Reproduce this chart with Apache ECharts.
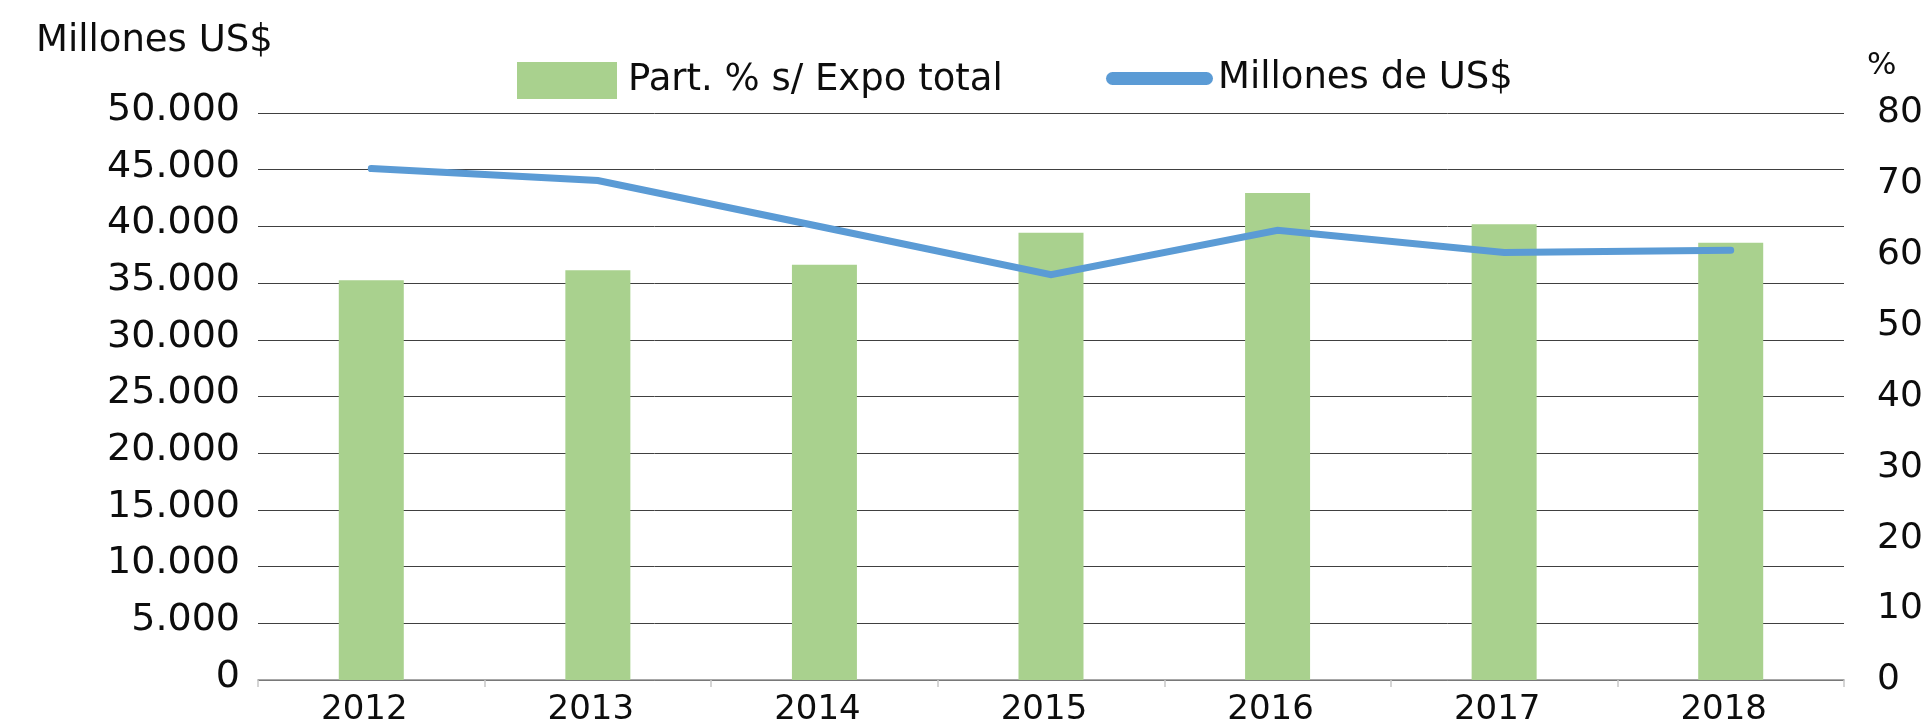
<!DOCTYPE html>
<html>
<head>
<meta charset="utf-8">
<style>
  html, body { margin: 0; padding: 0; background: #ffffff; }
  #chart { width: 1927px; height: 727px; }
</style>
<script src="https://cdn.jsdelivr.net/npm/echarts@6/dist/echarts.min.js"></script>
</head>
<body>
<div id="chart"></div>
<script>
// Years on the category axis
const years = ['2012', '2013', '2014', '2015', '2016', '2017', '2018'];
// Share of total exports (%), right axis
const partPct = [56.4, 57.8, 58.6, 63.1, 68.7, 64.3, 61.7];
// Exports in millions of US$, left axis
const millonesUSD = [45100, 44050, 39900, 35750, 39650, 37700, 37900];
// Axis ranges
const leftTicks = [0, 5000, 10000, 15000, 20000, 25000, 30000, 35000, 40000, 45000, 50000];
const rightTicks = [0, 10, 20, 30, 40, 50, 60, 70, 80];

const FONT = '"DejaVu Sans"';
const TXT = '#0d0d0d';

function thousands(v) {
  return String(v).replace(/\B(?=(\d{3})+(?!\d))/g, '.');
}

const chart = echarts.init(document.getElementById('chart'), null, { renderer: 'canvas' });

chart.setOption({
  animation: false,
  backgroundColor: '#ffffff',
  textStyle: { fontFamily: FONT, color: TXT },
  graphic: [
    {
      type: 'text', left: 36, top: 23,
      style: { text: 'Millones US$', font: '37px ' + FONT, fill: TXT }
    },
    {
      type: 'text', left: 1867, top: 50,
      style: { text: '%', font: '31px ' + FONT, fill: TXT }
    }
  ],
  legend: [
    {
      data: ['Part. % s/ Expo total'],
      left: 512, top: 57,
      itemWidth: 100, itemHeight: 37,
      icon: 'rect',
      textStyle: { fontFamily: FONT, fontSize: 37, color: TXT, padding: [0, 0, 0, 6] }
    },
    {
      data: ['Millones de US$'],
      left: 1101, top: 55,
      itemWidth: 107, itemHeight: 13,
      icon: 'path://M6.5,0 H100.5 A6.5,6.5 0 0 1 100.5,13 H6.5 A6.5,6.5 0 0 1 6.5,0 Z',
      itemStyle: { color: '#5B9BD5' },
      textStyle: { fontFamily: FONT, fontSize: 37, color: TXT, padding: [0, 0, 0, 0] }
    }
  ],
  grid: { left: 258, right: 83, top: 113, bottom: 46, containLabel: false },
  xAxis: {
    type: 'category',
    data: years,
    boundaryGap: true,
    axisLine: { lineStyle: { color: '#8c8c8c', width: 1.5 } },
    axisTick: { show: true, length: 7, lineStyle: { color: '#c8c8c8', width: 1.5 } },
    axisLabel: { fontFamily: FONT, fontSize: 34, color: TXT, margin: 13, padding: [0, 14, 0, 0] }
  },
  yAxis: [
    {
      type: 'value',
      min: leftTicks[0], max: leftTicks[leftTicks.length - 1], interval: leftTicks[1] - leftTicks[0],
      axisLine: { show: false },
      axisTick: { show: false },
      splitLine: { lineStyle: { color: '#404040', width: 1 } },
      axisLabel: {
        fontFamily: FONT, fontSize: 38, color: TXT, margin: 18,
        verticalAlign: 'bottom', lineHeight: 6,
        formatter: v => thousands(v)
      }
    },
    {
      type: 'value',
      position: 'right',
      min: rightTicks[0], max: rightTicks[rightTicks.length - 1], interval: rightTicks[1] - rightTicks[0],
      axisLine: { show: false },
      axisTick: { show: false },
      splitLine: { show: false },
      axisLabel: {
        fontFamily: FONT, fontSize: 36, color: TXT, margin: 33
      }
    }
  ],
  series: [
    {
      name: 'Part. % s/ Expo total',
      type: 'bar',
      yAxisIndex: 1,
      data: partPct,
      barWidth: 65,
      itemStyle: { color: '#A9D18E' },
      z: 2
    },
    {
      name: 'Millones de US$',
      type: 'line',
      yAxisIndex: 0,
      data: millonesUSD,
      showSymbol: false,
      symbol: 'none',
      lineStyle: { color: '#5B9BD5', width: 7, cap: 'round', join: 'miter' },
      itemStyle: { color: '#5B9BD5' },
      z: 5
    }
  ]
});
</script>
</body>
</html>
